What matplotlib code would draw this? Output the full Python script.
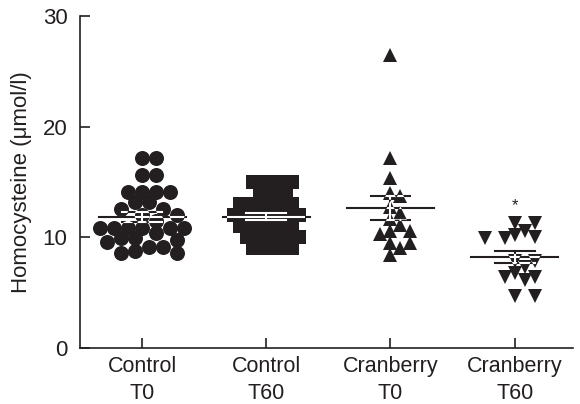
import numpy as np
import matplotlib
matplotlib.use("Agg")
import matplotlib.pyplot as plt
from matplotlib.markers import MarkerStyle
from matplotlib.path import Path
from matplotlib.transforms import Affine2D, IdentityTransform

plt.rcParams['font.family'] = ['Liberation Sans', 'DejaVu Sans']

# Homocysteine (umol/l) per subject
grupos = ['Control\nT0', 'Control\nT60', 'Cranberry\nT0', 'Cranberry\nT60']
control_t0 = [17.2, 17.2, 15.6, 15.6, 14.1, 14.1, 14.1, 14.1, 13.2, 13.2,
              12.6, 12.6, 12.0, 12.0, 11.5, 10.8, 10.8, 10.8, 10.8, 10.8,
              10.8, 10.4, 9.9, 9.9, 9.75, 9.6, 9.1, 9.1, 8.8, 8.6, 8.6]
control_t60 = [15, 15, 15, 15, 14, 14, 14, 13, 13, 13, 13, 13,
               12, 12, 12, 12, 12, 12, 11, 11, 11, 11, 11,
               10, 10, 10, 10, 10, 9, 9, 9, 9]
cranberry_t0 = [26.5, 17.2, 15.4, 14.0, 13.7, 12.7, 12.2, 11.7, 11.1, 10.6,
                10.6, 10.3, 9.5, 9.5, 9.0, 8.4]
cranberry_t60 = [11.3, 11.3, 10.6, 10.2, 10.0, 9.9, 9.9, 7.9, 7.9, 7.3,
                 6.8, 6.4, 6.4, 6.1, 4.7, 4.7]
datos = [control_t0, control_t60, cranberry_t0, cranberry_t60]
asterisco_y = 12.9

# estilo de marcador: (marker, tamano pt, paso px, distancia minima px)
estilos = [('o', 10.8, 7, 12), ('s', 9.4, 6.5, 12.3),
           ('^', 9.6, 10, 10.5), ('v', 9.6, 10, 10.5)]
negro = '#231f20'

fig = plt.figure(figsize=(5.8, 4.04), dpi=100)
ax = fig.add_axes([80 / 580, 56 / 404, 493 / 580, 332 / 404])
ax.set_xlim(-0.5, 3.47)
ax.set_ylim(0, 30)

# escala pixel por unidad de datos
p0, p1 = ax.transData.transform([[0, 0], [1, 1]])
px_x = p1[0] - p0[0]
px_y = p1[1] - p0[1]


def enjambre(valores, paso, dmin):
    # desplazamientos horizontales tipo beeswarm, en unidades de categoria
    orden = np.argsort(valores, kind='stable')[::-1]
    ys = np.array(valores, dtype=float) * px_y
    colocados = []
    offs = np.zeros(len(valores))
    candidatos = [0.0]
    for k in range(1, 30):
        candidatos += [k * paso, -k * paso]
    for i in orden:
        for c in candidatos:
            ok = True
            for (cx, cy) in colocados:
                if np.hypot(c - cx, ys[i] - cy) < dmin:
                    ok = False
                    break
            if ok:
                break
        colocados.append((c, ys[i]))
        offs[i] = c / px_x
    return offs


def camino_marcadores(xs, ys, marker, ms):
    # union de las formas de los marcadores, en pixeles
    st = MarkerStyle(marker)
    base = st.get_path().transformed(st.get_transform())
    esc = ms * fig.dpi / 72
    pts = ax.transData.transform(np.column_stack([xs, ys]))
    partes = [base.transformed(Affine2D().scale(esc).translate(px, py))
              for px, py in pts]
    return Path.make_compound_path(*partes)


for g, vals in enumerate(datos):
    vals = np.array(vals, dtype=float)
    marker, ms, paso, dmin = estilos[g]
    xs = g + enjambre(vals, paso, dmin)
    ax.plot(xs, vals, linestyle='none', marker=marker, markersize=ms,
            color=negro, markeredgewidth=0, zorder=2, clip_on=False)
    media = vals.mean()
    sem = vals.std(ddof=1) / np.sqrt(len(vals))
    clip = camino_marcadores(xs, vals, marker, ms)
    # negro bajo los marcadores; blanco encima, solo dentro de ellos
    for color, z in [(negro, 1), ('white', 3)]:
        lineas = []
        lineas += ax.plot([g - 0.35, g + 0.35], [media, media], color=color, lw=1.5, zorder=z)
        lineas += ax.plot([g - 0.16, g + 0.16], [media + sem] * 2, color=color, lw=1.5, zorder=z)
        lineas += ax.plot([g - 0.16, g + 0.16], [media - sem] * 2, color=color, lw=1.5, zorder=z)
        lineas += ax.plot([g, g], [media - sem, media + sem], color=color, lw=1.5, zorder=z)
        if color == 'white':
            for ln in lineas:
                ln.set_clip_path(clip, IdentityTransform())

ax.text(3, asterisco_y, '*', ha='center', va='center', fontsize=12, color=negro)

for s in ['top', 'right']:
    ax.spines[s].set_visible(False)
for s in ['left', 'bottom']:
    ax.spines[s].set_linewidth(1.2)
    ax.spines[s].set_color(negro)

ax.set_xticks(range(4))
ax.set_xticklabels(grupos, fontsize=15.5, linespacing=1.38)
ax.set_yticks([0, 10, 20, 30])
ax.tick_params(direction='in', length=7.2, width=1.2, color=negro,
               labelsize=16, labelcolor=negro)
ax.tick_params(axis='x', pad=6, labelsize=15.5)
ax.tick_params(axis='y', pad=9)
ax.set_ylabel('Homocysteine (μmol/l)', fontsize=16, color=negro)
ax.yaxis.set_label_coords(-0.097, 0.5)

fig.savefig('out.png', dpi=100)
